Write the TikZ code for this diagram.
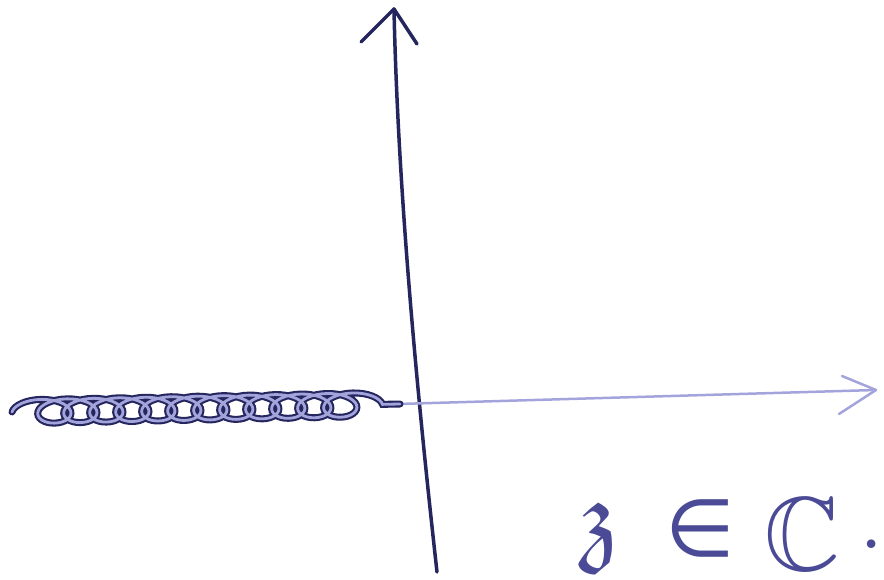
\documentclass[tikz,border=0pt]{standalone}
\usepackage{fontspec}
\usepackage{amssymb}
\newfontfamily\symfont{DejaVu Sans}
\usetikzlibrary{decorations.pathmorphing}
\definecolor{inkdark}{HTML}{26265E}
\definecolor{inkmid}{HTML}{4A4A96}
\definecolor{inklight}{HTML}{A4A4DC}
\tikzset{
  vaxis/.style={draw=inkdark, line width=3.5pt, line cap=round, line join=round},
  haxis/.style={draw=inklight, line width=2.5pt, line cap=round, line join=round},
  coilshape/.style={decorate,
    decoration={coil, aspect=1.9, segment length=26pt, amplitude=12pt}},
  cutdark/.style={coilshape, draw=inkdark, line width=7pt, line cap=round},
  cutlight/.style={coilshape, draw=inklight, line width=2.8pt, line cap=round},
  lab/.style={text=inkmid, inner sep=0pt, anchor=base, font=\fontsize{105}{105}\selectfont},
}
\begin{document}
\begin{tikzpicture}[x=1pt,y=-1pt]
\useasboundingbox (0,0) rectangle (884,580);
% vertical axis
\coordinate (vbot) at (437,572);
\coordinate (vtop) at (394,9);
\coordinate (vl) at (361,42);
\coordinate (vr) at (417,44);
\draw[vaxis] (vbot) .. controls (420,420) and (398,200) .. (vtop);
\draw[vaxis] (vl) -- (vtop) -- (vr);
% horizontal axis
\coordinate (hl) at (398,404);
\coordinate (hr) at (876,390);
\coordinate (hu) at (842,376);
\coordinate (hd) at (839,414);
\draw[haxis] (hl) -- (hr);
\draw[haxis] (hu) -- (hr) -- (hd);
% branch cut
\coordinate (cl) at (12,412);
\coordinate (cr) at (400,404);
\draw[cutdark] (cl) -- (cr);
\draw[cutlight] (cl) -- (cr);
% label
\node[lab] (z) at (600,552) {$\mathfrak{z}$};
\node[lab, font=\fontsize{80}{80}\selectfont\symfont] (in) at (700,556) {∈};
\node[lab] (C) at (802,570) {$\mathbb{C}$};
\node[lab] (dot) at (872,548) {.};
\end{tikzpicture}
\end{document}
